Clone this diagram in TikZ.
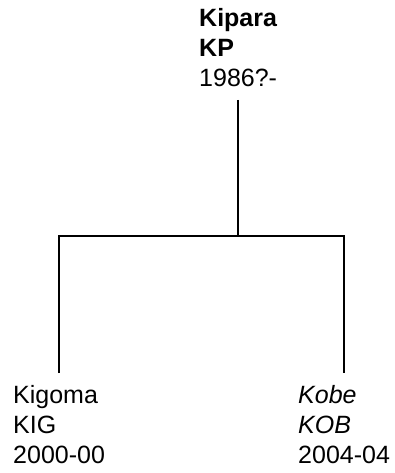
\documentclass[tikz,border=0pt]{standalone}
\usepackage{fontspec}
\setmainfont{Liberation Sans}
\begin{document}
\begin{tikzpicture}[x=1pt,y=1pt,
  lbl/.style={inner sep=0pt, align=left, font=\fontsize{25}{30}\selectfont},
  conn/.style={line width=1.5pt, black}]
\useasboundingbox (0,0) rectangle (395,-473);
\node[lbl, anchor=base west] (kp) at (199,-87) {\textbf{Kipara}\\\textbf{KP}\\1986?-};
\node[lbl, anchor=base west] (kig) at (13,-463) {Kigoma\\KIG\\2000-00};
\node[lbl, anchor=base west] (kob) at (298,-463) {\textit{Kobe}\\\textit{KOB}\\2004-04};
\coordinate (bus) at (0,-236);
\draw[conn] ([yshift=-13pt]kp.base) -- (kp.base |- bus);
\draw[conn] ([yshift=90pt]kig.base) -- (kig.base |- bus) -- (kob.base |- bus) -- ([yshift=90pt]kob.base);
\end{tikzpicture}
\end{document}
